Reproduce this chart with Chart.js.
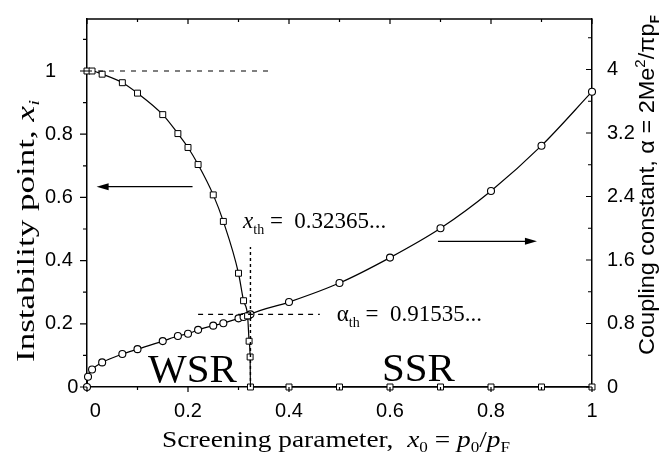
<!DOCTYPE html>
<html>
<head>
<meta charset="utf-8">
<script src="https://cdn.jsdelivr.net/npm/chart.js@4.4.1/dist/chart.umd.min.js"></script>
<style>
  html, body { margin: 0; padding: 0; background: #fff; }
</style>
</head>
<body>
<canvas id="myChart" width="666" height="465"></canvas>
<script>
// instability point x_i (left axis) vs screening parameter x0
const xiX = [0, 0.01, 0.03, 0.07, 0.1, 0.15, 0.18, 0.2, 0.22, 0.25, 0.27, 0.3, 0.31, 0.318, 0.321, 0.323, 0.32365,
             0.4, 0.5, 0.6, 0.7, 0.8, 0.9, 1.0];
const xiY = [1, 1, 0.99, 0.963, 0.93, 0.862, 0.802, 0.758, 0.704, 0.608, 0.524, 0.36, 0.273, 0.225, 0.145, 0.095, 0,
             0, 0, 0, 0, 0, 0, 0];

// coupling constant alpha (right axis)
const alphaX = [0, 0.002, 0.01, 0.03, 0.07, 0.1, 0.15, 0.18, 0.2, 0.22, 0.25, 0.27, 0.3, 0.31, 0.32, 0.32365,
                0.4, 0.5, 0.6, 0.7, 0.8, 0.9, 1.0];
const alphaY = [0, 0.13, 0.22, 0.31, 0.415, 0.477, 0.578, 0.643, 0.671, 0.72, 0.773, 0.803, 0.865, 0.882, 0.9, 0.91535,
                1.07, 1.31, 1.63, 2.0, 2.47, 3.04, 3.72];

const xTh = 0.32365;
const alphaTh = 0.91535;

const SERIF = 'Liberation Serif';
const SANS = 'Liberation Sans';

const fmt = v => String(Math.round(v * 10) / 10);

// draws a row of text pieces (sub/superscripts), optionally stretched to a width
function drawParts(ctx, parts, x, y, opts) {
    const o = opts || {};
    let w = 0;
    for (const p of parts) { ctx.font = p.f; w += ctx.measureText(p.t).width; }
    const sx = o.width ? o.width / w : 1;
    ctx.save();
    ctx.translate(x, y);
    if (o.rotate) ctx.rotate(o.rotate);
    ctx.scale(sx, 1);
    ctx.fillStyle = '#000';
    ctx.textBaseline = 'alphabetic';
    ctx.textAlign = 'left';
    let cx = o.center ? -w / 2 : 0;
    for (const p of parts) {
        ctx.font = p.f;
        ctx.fillText(p.t, cx, p.dy || 0);
        cx += ctx.measureText(p.t).width;
    }
    ctx.restore();
}

function arrow(ctx, x1, y, x2) {
    const dir = Math.sign(x2 - x1);
    ctx.beginPath();
    ctx.moveTo(x1, y);
    ctx.lineTo(x2 - dir * 8, y);
    ctx.stroke();
    ctx.beginPath();
    ctx.moveTo(x2, y);
    ctx.lineTo(x2 - dir * 12, y - 3.5);
    ctx.lineTo(x2 - dir * 12, y + 3.5);
    ctx.closePath();
    ctx.fill();
}

function minors(scale, step) {
    const out = [];
    for (let v = step / 2; v < scale.max + 1e-9; v += step) out.push(v);
    return out;
}

const frameAndNotes = {
    id: 'frameAndNotes',
    afterDatasetsDraw(chart) {
        const { ctx, chartArea: a, scales } = chart;
        const x = scales.x, y = scales.y, y2 = scales.y2;
        ctx.save();
        ctx.strokeStyle = '#000';
        ctx.fillStyle = '#000';
        ctx.lineWidth = 1.1;

        // dashed guide lines
        ctx.setLineDash([5, 6]);
        ctx.beginPath();
        ctx.moveTo(x.getPixelForValue(0), y.getPixelForValue(1));
        ctx.lineTo(x.getPixelForValue(0.366), y.getPixelForValue(1));
        ctx.stroke();
        ctx.setLineDash([5, 5]);
        ctx.beginPath();
        ctx.moveTo(x.getPixelForValue(0.22), y2.getPixelForValue(alphaTh));
        ctx.lineTo(x.getPixelForValue(0.461), y2.getPixelForValue(alphaTh));
        ctx.stroke();
        ctx.setLineDash([3, 3]);
        ctx.lineWidth = 1.4;
        ctx.beginPath();
        ctx.moveTo(x.getPixelForValue(xTh), y.getPixelForValue(0));
        ctx.lineTo(x.getPixelForValue(xTh), y.getPixelForValue(0.443));
        ctx.stroke();
        ctx.setLineDash([]);

        // arrows pointing to each curve's axis
        ctx.lineWidth = 1.2;
        arrow(ctx, x.getPixelForValue(0.209), y.getPixelForValue(0.634), x.getPixelForValue(0.019));
        arrow(ctx, x.getPixelForValue(0.695), y.getPixelForValue(0.461), x.getPixelForValue(0.891));

        // frame: top line plus ticks on all four sides
        ctx.lineWidth = 1.5;
        ctx.beginPath();
        ctx.moveTo(a.left, a.top);
        ctx.lineTo(a.right, a.top);
        ctx.stroke();
        ctx.lineWidth = 1.2;
        ctx.beginPath();
        const xt = (v, len) => {
            const px = x.getPixelForValue(v);
            ctx.moveTo(px, a.bottom); ctx.lineTo(px, a.bottom + len);
            ctx.moveTo(px, a.top); ctx.lineTo(px, a.top + len);
        };
        x.ticks.forEach(t => xt(t.value, 5));
        minors(x, 0.2).forEach(v => xt(v, 3));
        const yt = (v, len) => {
            const py = y.getPixelForValue(v);
            ctx.moveTo(a.left, py); ctx.lineTo(a.left - len, py);
        };
        y.ticks.forEach(t => yt(t.value, 7));
        minors(y, 0.2).forEach(v => yt(v, 4));
        const y2t = (v, len) => {
            const py = y2.getPixelForValue(v);
            ctx.moveTo(a.right, py); ctx.lineTo(a.right - len, py);
        };
        y2.ticks.forEach(t => y2t(t.value, 6));
        minors(y2, 0.8).forEach(v => y2t(v, 4));
        ctx.stroke();
        ctx.restore();
    },
    afterDraw(chart) {
        const { ctx, scales } = chart;
        const x = scales.x, y = scales.y;
        const it = s => 'italic ' + s + 'px ' + SERIF;
        const rm = s => s + 'px ' + SERIF;

        // axis titles
        drawParts(ctx, [
            { t: 'Instability point, ', f: rm(25) },
            { t: 'x', f: it(25) },
            { t: 'i', f: it(15), dy: 5 }
        ], 34, 231, { rotate: -Math.PI / 2, center: true, width: 262 });

        drawParts(ctx, [
            { t: 'Coupling constant, \u03b1 = 2Me', f: '22px ' + SANS },
            { t: '2', f: '14px ' + SANS, dy: -9 },
            { t: '/\u03c0p', f: '22px ' + SANS },
            { t: 'F', f: 'bold 13px ' + SANS, dy: 5 }
        ], 654, 185, { rotate: -Math.PI / 2, center: true, width: 340 });

        drawParts(ctx, [
            { t: 'Screening parameter,  ', f: rm(24) },
            { t: 'x', f: it(24) },
            { t: '0', f: rm(15), dy: 5 },
            { t: ' = ', f: rm(24) },
            { t: 'p', f: it(24) },
            { t: '0', f: rm(15), dy: 5 },
            { t: '/', f: rm(24) },
            { t: 'p', f: it(24) },
            { t: 'F', f: rm(15), dy: 5 }
        ], 336, 447, { center: true, width: 348 });

        // threshold values
        drawParts(ctx, [
            { t: 'x', f: it(23) },
            { t: 'th', f: rm(14), dy: 6 },
            { t: ' =  0.32365...', f: rm(23) }
        ], x.getPixelForValue(0.309), y.getPixelForValue(0.504));
        drawParts(ctx, [
            { t: '\u03b1', f: rm(23) },
            { t: 'th', f: rm(14), dy: 6 },
            { t: ' =  0.91535...', f: rm(23) }
        ], x.getPixelForValue(0.4945), y.getPixelForValue(0.21));

        // regime labels
        drawParts(ctx, [{ t: 'WSR', f: rm(41) }], x.getPixelForValue(0.121), y.getPixelForValue(0.016));
        drawParts(ctx, [{ t: 'SSR', f: rm(41) }], x.getPixelForValue(0.584), y.getPixelForValue(0.018));
    }
};

const tickFont = { family: SANS, size: 20 };

const ctx = document.getElementById('myChart').getContext('2d');
new Chart(ctx, {
    type: 'line',
    data: {
        datasets: [
            {
                label: 'x_i',
                data: xiX.map((v, i) => ({ x: v, y: xiY[i] })),
                yAxisID: 'y',
                borderColor: '#000',
                borderWidth: 1.2,
                pointStyle: 'rect',
                pointRadius: 4.2,
                pointBackgroundColor: '#fff',
                pointBorderColor: '#000',
                pointBorderWidth: 1,
                cubicInterpolationMode: 'monotone',
                clip: false
            },
            {
                label: 'alpha',
                data: alphaX.map((v, i) => ({ x: v, y: alphaY[i] })),
                yAxisID: 'y2',
                borderColor: '#000',
                borderWidth: 1.2,
                pointStyle: 'circle',
                pointRadius: 3.5,
                pointBackgroundColor: '#fff',
                pointBorderColor: '#000',
                pointBorderWidth: 1.1,
                cubicInterpolationMode: 'monotone',
                clip: false
            }
        ]
    },
    options: {
        responsive: false,
        animation: false,
        devicePixelRatio: 1,
        layout: { padding: { top: 5, left: 45, right: 0, bottom: 0 } },
        plugins: { legend: { display: false }, tooltip: { enabled: false } },
        scales: {
            x: {
                type: 'linear',
                min: 0,
                max: 1,
                afterFit: s => { s.height = 78; },
                grid: { display: false },
                border: { color: '#000', width: 1.5 },
                ticks: {
                    stepSize: 0.2,
                    includeBounds: false,
                    maxRotation: 0,
                    autoSkip: false,
                    padding: 4,
                    color: '#000',
                    font: tickFont,
                    callback: v => (v === 0 ? '   0' : fmt(v))
                }
            },
            y: {
                position: 'left',
                min: 0,
                max: 1.1646,
                afterFit: s => { s.width = 42; },
                grid: { display: false },
                border: { color: '#000', width: 1.5 },
                ticks: {
                    stepSize: 0.2,
                    includeBounds: false,
                    crossAlign: 'far',
                    color: '#000',
                    font: tickFont,
                    callback: v => (v === 0 ? '    0' : fmt(v))
                }
            },
            y2: {
                position: 'right',
                min: 0,
                max: 4.636,
                afterFit: s => { s.width = 74; },
                grid: { display: false },
                border: { color: '#000', width: 1.5 },
                ticks: {
                    stepSize: 0.8,
                    includeBounds: false,
                    padding: 7,
                    color: '#000',
                    font: tickFont,
                    callback: v => fmt(v)
                }
            }
        }
    },
    plugins: [frameAndNotes]
});
</script>
</body>
</html>
